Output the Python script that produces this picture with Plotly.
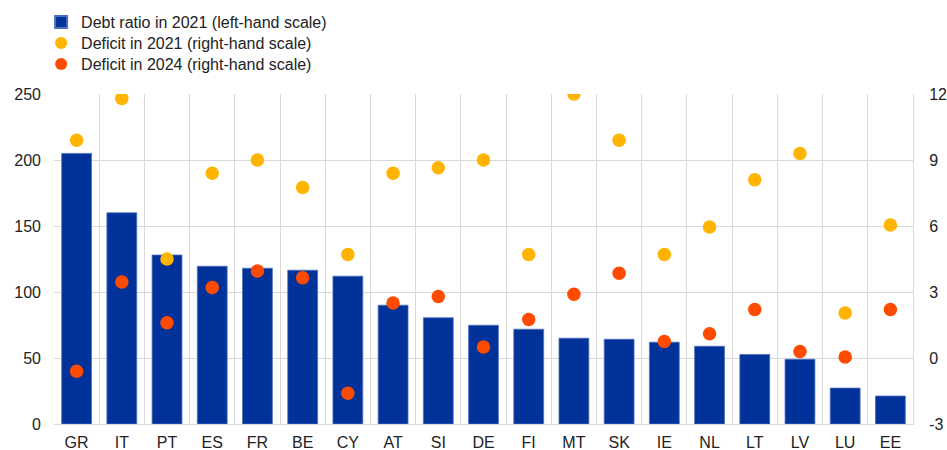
import plotly.graph_objects as go

countries = ["GR", "IT", "PT", "ES", "FR", "BE", "CY", "AT", "SI", "DE",
             "FI", "MT", "SK", "IE", "NL", "LT", "LV", "LU", "EE"]
debt_2021 = [205, 160, 128, 119.5, 118, 116.5, 112, 90, 80.5, 74.8,
             71.8, 65, 64.2, 62, 58.9, 52.7, 49, 27.2, 21.2]
deficit_2021 = [9.9, 11.8, 4.5, 8.4, 9.0, 7.75, 4.7, 8.4, 8.65, 9.0,
                4.7, 12.0, 9.9, 4.7, 5.95, 8.1, 9.3, 2.05, 6.05]
deficit_2024 = [-0.6, 3.45, 1.6, 3.2, 3.95, 3.65, -1.6, 2.5, 2.8, 0.5,
                1.75, 2.9, 3.85, 0.75, 1.1, 2.2, 0.3, 0.05, 2.2]

left_ticks = [0, 50, 100, 150, 200, 250]
right_ticks = [-3, 0, 3, 6, 9, 12]
right_tick_labels = ["-3", "0", "3", "6", "9", "12"]

BLUE = "#003299"
YELLOW = "#FFB400"
RED = "#FF4B00"
GRID = "#d9d9d9"
FONT = dict(family="Liberation Sans, Arial, sans-serif", size=16, color="#222222")

fig = go.Figure()
fig.add_trace(go.Bar(
    x=countries, y=debt_2021, name="Debt ratio in 2021 (left-hand scale)",
    marker=dict(color=BLUE, line=dict(color="#4d6fbf", width=0.8)),
    width=0.66, yaxis="y", legend="legend",
))
fig.add_trace(go.Scatter(
    x=countries, y=deficit_2021, name="Deficit in 2021 (right-hand scale)",
    mode="markers", marker=dict(color=YELLOW, size=13.5), yaxis="y2",
    legend="legend2",
))
fig.add_trace(go.Scatter(
    x=countries, y=deficit_2024, name="Deficit in 2024 (right-hand scale)",
    mode="markers", marker=dict(color=RED, size=13.5), yaxis="y2",
    legend="legend3",
))

leg_common = dict(x=-0.015, xanchor="left", yanchor="top", orientation="v",
                  font=FONT, bgcolor="rgba(0,0,0,0)", itemsizing="constant")

fig.update_layout(
    width=947, height=450,
    margin=dict(l=54, r=34, t=94, b=26, autoexpand=False),
    paper_bgcolor="white", plot_bgcolor="white",
    font=FONT,
    showlegend=True,
    legend=dict(y=1.2697, **leg_common),
    legend2=dict(y=1.2061, **leg_common),
    legend3=dict(y=1.1424, **leg_common),
    xaxis=dict(
        type="category", tickson="boundaries", showgrid=True, gridcolor=GRID,
        gridwidth=1, ticks="", showline=True, linecolor=GRID, linewidth=1,
        mirror=False, tickfont=FONT, ticklabelstandoff=4,
        range=[-0.5, len(countries) - 0.5],
    ),
    yaxis=dict(
        range=[0, 250], tickvals=left_ticks, showgrid=True, gridcolor=GRID,
        gridwidth=1, zeroline=False, ticks="", tickfont=FONT,
        ticklabelstandoff=12, showline=False,
    ),
    yaxis2=dict(
        range=[-3, 12], tickvals=right_ticks, ticktext=right_tick_labels,
        overlaying="y", side="right",
        showgrid=False, zeroline=False, ticks="", tickfont=FONT,
        ticklabelstandoff=12, showline=True, linecolor=GRID, linewidth=1,
    ),
)

fig.write_html(
    "out.html",
    config={"displayModeBar": False},
    post_script="document.body.style.margin='0';document.body.style.padding='0';",
)
